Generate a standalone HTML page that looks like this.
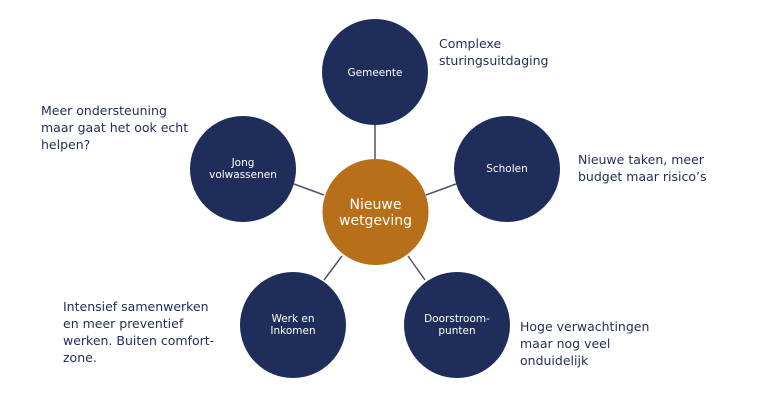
<!DOCTYPE html>
<html><head><meta charset="utf-8"><style>
html,body{margin:0;padding:0;background:#fff;}
svg{display:block;}
text{font-family:"DejaVu Sans","Liberation Sans",sans-serif;}
</style></head><body>
<svg width="769" height="410" viewBox="0 0 769 410" xmlns="http://www.w3.org/2000/svg">
<g stroke="#4b5370" stroke-width="1.5">
<line x1="375" y1="124" x2="375" y2="159"/>
<line x1="294" y1="184" x2="324" y2="195"/>
<line x1="456" y1="184" x2="426" y2="195"/>
<line x1="342" y1="256" x2="324" y2="280"/>
<line x1="408" y1="256" x2="425" y2="280"/>
</g>
<g fill="#1f2d5a">
<circle cx="375" cy="72" r="53"/>
<circle cx="243" cy="169" r="53"/>
<circle cx="507" cy="169" r="53"/>
<circle cx="293" cy="325" r="53"/>
<circle cx="457" cy="325" r="53"/>
</g>
<circle cx="375.5" cy="212" r="53" fill="#b76f1a"/>
<g fill="#fff" font-size="10.5" text-anchor="middle">
<text x="375" y="76">Gemeente</text>
<text x="243" y="166">Jong</text>
<text x="243" y="178">volwassenen</text>
<text x="507" y="172">Scholen</text>
<text x="293" y="322">Werk en</text>
<text x="293" y="334">Inkomen</text>
<text x="457" y="322">Doorstroom-</text>
<text x="457" y="334">punten</text>
<text x="375.5" y="209" font-size="14">Nieuwe</text>
<text x="375.5" y="225" font-size="14">wetgeving</text>
</g>
<g fill="#1f2d5a" font-size="12.5">
<text x="439" y="48">Complexe</text>
<text x="439" y="65">sturingsuitdaging</text>
<text x="41" y="115">Meer ondersteuning</text>
<text x="41" y="132">maar gaat het ook echt</text>
<text x="41" y="149">helpen?</text>
<text x="578" y="164">Nieuwe taken, meer</text>
<text x="578" y="181">budget maar risico’s</text>
<text x="63" y="311">Intensief samenwerken</text>
<text x="63" y="328">en meer preventief</text>
<text x="63" y="345">werken. Buiten comfort-</text>
<text x="63" y="362">zone.</text>
<text x="520" y="331">Hoge verwachtingen</text>
<text x="520" y="348">maar nog veel</text>
<text x="520" y="365">onduidelijk</text>
</g>
</svg>
</body></html>
